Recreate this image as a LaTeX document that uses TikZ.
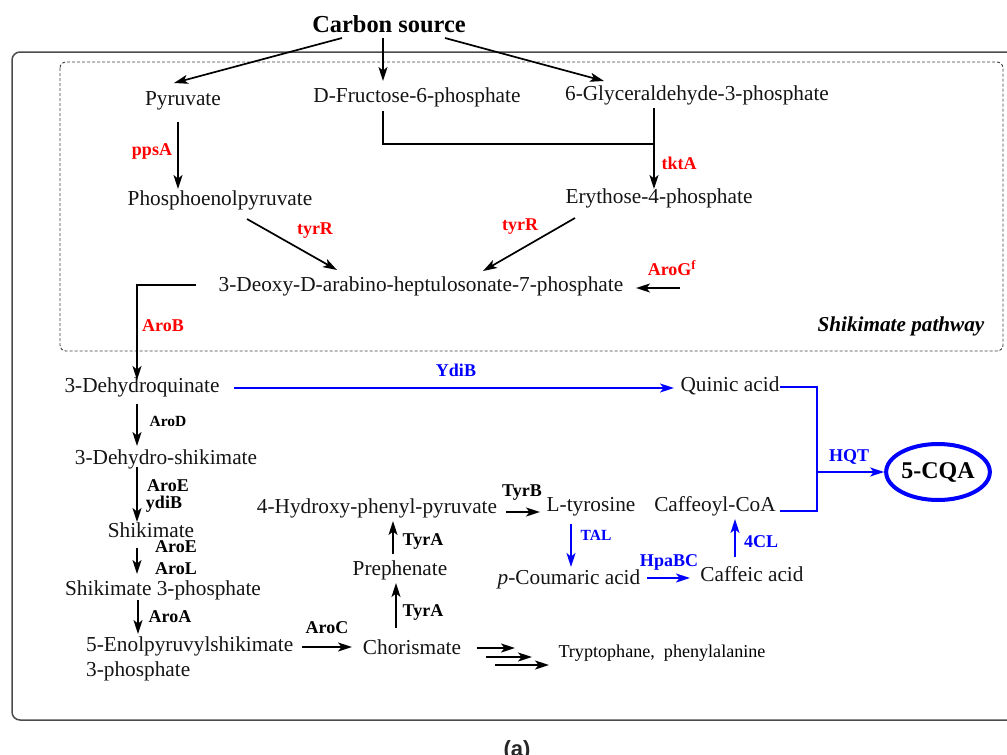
\documentclass[tikz,border=0pt]{standalone}
\usepackage{fontspec}
\setmainfont{Liberation Serif}
\newfontfamily\capsans{Liberation Sans}
\usetikzlibrary{arrows.meta,calc,shapes.geometric}
\begin{document}
\begin{tikzpicture}[x=1pt,y=-1pt,
  chem/.style={font=\fontsize{21.3}{24.5}\selectfont, inner sep=0pt, text=black!92},
  enz/.style={font=\bfseries\fontsize{18}{20}\selectfont, inner sep=0pt},
  enzs/.style={font=\bfseries\fontsize{15.5}{17}\selectfont, inner sep=0pt},
  redenz/.style={enz, text=red},
  blueenz/.style={enz, text=blue},
  ln/.style={line width=1.7pt},
  arr/.style={ln, -{Stealth[length=14pt,width=9pt,inset=3.5pt]}},
  barr/.style={arr, draw=blue},
  bln/.style={ln, draw=blue}]
\useasboundingbox (0,0) rectangle (1007,755);
\clip (0,0) rectangle (1007,755);
% frames
\draw[line width=1.5pt, black!70, rounded corners=8pt] (12,52) rectangle (1030,720);
\draw[dash pattern=on 3pt off 2pt, line width=0.9pt, black!75, rounded corners=6pt] (60,62) rectangle (1003,351);
% chemical nodes
\node[font=\bfseries\fontsize{24.4}{26}\selectfont, inner sep=0pt] (cs) at (389,24) {Carbon source};
\node[chem] (pyr) at (183,101) {Pyruvate};
\node[chem] (f6p) at (417,97) {D-Fructose-6-phosphate};
\node[chem] (g3p) at (697,95) {6-Glyceraldehyde-3-phosphate};
\node[chem] (pep) at (220,200) {Phosphoenolpyruvate};
\node[chem] (e4p) at (659,198) {Erythose-4-phosphate};
\node[chem] (dahp) at (421,286) {3-Deoxy-D-arabino-heptulosonate-7-phosphate};
\node[font=\bfseries\itshape\fontsize{21.2}{23}\selectfont, inner sep=0pt] (shp) at (901,326) {Shikimate pathway};
\node[chem] (dhq) at (142,387) {3-Dehydroquinate};
\node[chem] (qa) at (730,386) {Quinic acid};
\node[chem] (dhs) at (166,459) {3-Dehydro-shikimate};
\node[chem] (shk) at (151,530) {Shikimate};
\node[chem] (s3p) at (163,590) {Shikimate 3-phosphate};
\node[chem, anchor=north west, align=left] (eps) at (86,637) {5-Enolpyruvylshikimate\\3-phosphate};
\node[chem] (chor) at (412,647) {Chorismate};
\node[chem] (prep) at (400,570) {Prephenate};
\node[chem] (hpp) at (377,508) {4-Hydroxy-phenyl-pyruvate};
\node[chem] (tyr) at (591,507) {L-tyrosine};
\node[chem] (pca) at (569,579) {\textit{p}-Coumaric acid};
\node[chem] (caf) at (752,574) {Caffeic acid};
\node[chem] (cfc) at (715,506) {Caffeoyl-CoA};
\node[ellipse, draw=blue, line width=4pt, minimum width=95pt, minimum height=56pt, inner sep=0pt,
      font=\bfseries\fontsize{24}{26}\selectfont] (cqa) at (938,472) {5-CQA};
\node[font=\fontsize{18.1}{20}\selectfont, inner sep=0pt] (trp) at (662,653) {Tryptophane,~ phenylalanine};
\node[font=\capsans\bfseries\fontsize{22}{24}\selectfont, inner sep=0pt, text=black!85] (cap) at (517,751) {(a)};
% enzyme labels
\node[redenz] (ppsA) at (152,151) {ppsA};
\node[redenz] (tktA) at (679,163) {tktA};
\node[redenz] (tyrRa) at (315,231) {tyrR};
\node[redenz] (tyrRb) at (520,227) {tyrR};
\node[redenz] (aroG) at (672,268) {AroG\textsuperscript{f}};
\node[redenz] (aroB) at (163,326) {AroB};
\node[enzs] (aroD) at (168,421) {AroD};
\node[enz] (aroE) at (168,486) {AroE};
\node[enz] (ydiBs) at (164,504) {ydiB};
\node[enz] (aroE2) at (176,547) {AroE};
\node[enz] (aroL) at (176,569) {AroL};
\node[enz] (aroA) at (170,617) {AroA};
\node[enz] (aroC) at (327,628) {AroC};
\node[enz] (tyrA1) at (423,541) {TyrA};
\node[enz] (tyrA2) at (423,612) {TyrA};
\node[enz] (tyrB) at (522,493) {TyrB};
\node[blueenz] (ydiB) at (456,370) {YdiB};
\node[blueenz] (hqt) at (849,457) {HQT};
\node[blueenz, font=\bfseries\fontsize{15.5}{17}\selectfont] (tal) at (596,535) {TAL};
\node[blueenz] (hpa) at (669,562) {HpaBC};
\node[blueenz] (cl4) at (761,542) {4CL};
\coordinate (aroGin) at (680,288);
\coordinate (hqtj) at ($(cqa.west)+(-67,0)$);
% upper connectors
\draw[arr] ($(cs)+(-47,14)$) -- ($(pyr)+(-9,-18)$);
\draw[arr] ($(cs)+(-6,14)$) -- ($(f6p)+(-34,-16)$);
\draw[arr] ($(cs)+(56,14)$) -- ($(g3p)+(-93,-14)$);
\draw[arr] ($(pyr)+(-5,21)$) -- ($(pep)+(-42,-11)$);
\draw[ln] ($(f6p)+(-34,14)$) |- ($(g3p)+(-43,49)$);
\draw[arr] ($(g3p)+(-43,13)$) -- ($(e4p)+(-5,-9)$);
\draw[arr] ($(pep)+(27,19)$) -- ($(dahp)+(-84,-16)$);
\draw[arr] ($(e4p)+(-84,20)$) -- ($(dahp)+(62,-15)$);
\draw[arr] (aroGin) -- ($(dahp)+(215,2)$);
\draw[arr] ($(dahp)+(-225,-1)$) -| ($(dhq)+(-5,-7)$);
% blue branch
\draw[barr] ($(dhq)+(92,1)$) -- ($(qa)+(-56,2)$);
\draw[bln] ($(qa)+(50,1)$) -| (hqtj) |- ($(cfc)+(65,5)$);
\draw[barr] (hqtj) -- (cqa.west);
\draw[barr] ($(caf)+(-17,-17)$) -- ($(cfc)+(20,13)$);
\draw[barr] ($(pca)+(78,-1)$) -- ($(caf)+(-62,4)$);
\draw[barr] ($(tyr)+(-20,17)$) -- ($(pca)+(2,-12)$);
% lower black
\draw[arr] ($(hpp)+(129,4)$) -- ($(tyr)+(-51,5)$);
\draw[arr] ($(prep)+(-7,-16)$) -- ($(hpp)+(16,13)$);
\draw[arr] ($(chor)+(-16,-19)$) -- ($(prep)+(-4,13)$);
\draw[arr] ($(eps.north west)+(216,10)$) -- ($(chor)+(-60,0)$);
\draw[arr] ($(chor)+(65,1)$) -- ($(trp)+(-147,-5)$);
\draw[arr] ($(chor)+(74,10)$) -- ($(trp)+(-130,4)$);
\draw[arr] ($(chor)+(83,18)$) -- ($(trp)+(-113,12)$);
\draw[arr] ($(dhq)+(-5,17)$) -- ($(dhs)+(-29,-13)$);
\draw[arr] ($(dhs)+(-29,8)$) -- ($(shk)+(-14,-8)$);
\draw[arr] ($(shk)+(-14,18)$) -- ($(s3p)+(-26,-16)$);
\draw[arr] ($(s3p)+(-25,10)$) -- ($(eps.north west)+(52,-3)$);
\end{tikzpicture}
\end{document}
